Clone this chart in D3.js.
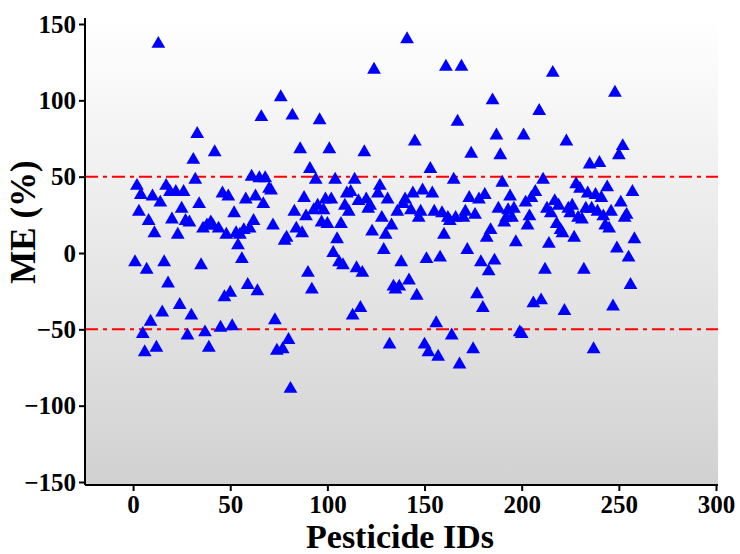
<!DOCTYPE html>
<html>
<head>
<meta charset="utf-8">
<script src="https://cdn.jsdelivr.net/npm/d3@7"></script>
<style>
  html, body { margin: 0; padding: 0; background: #ffffff; }
  svg { display: block; }
  text { font-family: "Liberation Serif", "Times New Roman", serif; font-weight: bold; fill: #000; }
</style>
</head>
<body>
<svg id="chart" width="740" height="554"></svg>
<script>
// Pesticide IDs and their matrix effect (%)
const pesticideIds = [
  1,2,3,4,5,6,7,8,9,10,11,12,13,14,15,16,17,18,19,20,22,23,24,25,26,27,28,29,30,
  31,32,33,34,35,36,37,38,39,40,41,42,44,45,46,47,48,49,50,51,52,53,54,55,56,57,58,59,60,
  61,62,63,64,65,66,67,68,70,71,72,73,74,76,77,78,79,80,81,82,83,84,86,87,88,89,90,
  91,92,93,94,95,96,97,98,99,100,101,102,103,104,105,106,107,108,109,110,111,112,113,114,115,116,117,118,119,120,
  121,122,123,124,126,127,128,129,130,131,132,133,134,135,136,137,138,139,140,141,142,143,144,145,146,147,148,149,150,
  151,152,153,154,155,156,157,158,159,160,161,162,163,164,165,166,167,168,169,170,171,172,173,174,175,176,177,178,179,180,
  181,182,183,184,185,186,187,188,189,190,191,192,193,194,195,196,197,199,200,201,202,203,204,205,206,207,209,210,
  211,212,213,214,215,216,217,218,219,220,221,222,223,224,225,226,227,228,229,230,231,232,233,234,235,236,237,238,239,240,
  241,242,243,244,245,246,247,248,249,250,251,252,253,254,255,256,257,258
];
const matrixEffect = [
  -6,44,27,38,-53,-65,-11,21,-45,37,13,-62,137,33,-39,-6,44,-20,40,22,40,12,-34,29,40,21,-54,20,-41,
  61,48,78,32,-8,16,-52,18,-62,20,18,66,16,-49,39,-29,12,37,-26,-48,26,13,5,12,-4,15,35,-21,16,
  50,21,37,-25,49,89,32,49,42,41,18,-44,-64,102,-63,8,10,-57,-89,90,27,16,68,13,36,24,-13,
  55,-24,28,48,31,87,20,28,35,19,68,35,0,48,9,-6,19,-8,31,39,27,40,-41,48,-10,34,-36,-13,66,35,
  29,31,14,120,39,44,23,2,12,35,-60,18,-22,-24,27,-22,-6,32,35,140,-18,28,39,73,-28,23,27,41,-60,
  -4,-65,55,39,27,-46,-68,-3,26,12,122,23,21,-54,48,23,86,-73,122,23,27,2,36,65,-63,25,-27,35,-6,-36,
  38,10,-12,15,100,-5,77,29,64,46,20,23,28,37,23,29,7,-52,-53,77,33,18,24,36,-33,40,93,-31,
  48,-11,29,6,26,118,34,19,31,15,13,-38,73,29,26,31,10,45,23,42,22,-11,29,39,58,29,-63,38,27,59,
  36,24,18,43,16,27,-35,105,3,64,33,70,23,25,-3,-21,40,9
];

// Axis ticks
const xTicks = [0, 50, 100, 150, 200, 250, 300];
const yTicks = [-150, -100, -50, 0, 50, 100, 150];
// ±50 % limits
const limits = [-50, 50];

const svg = d3.select("#chart");
const plot = { left: 85, right: 718, top: 18, bottom: 485 };

const x = d3.scaleLinear().domain([-25, 300]).range([84.5, 716]);
const y = d3.scaleLinear().domain([-150, 150]).range([482, 24]);

// Plot area background: white fading to light grey
const defs = svg.append("defs");
const grad = defs.append("linearGradient")
  .attr("id", "bg").attr("x1", 0).attr("y1", 0).attr("x2", 0).attr("y2", 1);
grad.append("stop").attr("offset", "0%").attr("stop-color", "#ffffff");
grad.append("stop").attr("offset", "100%").attr("stop-color", "#d1d1d1");

svg.append("rect")
  .attr("x", plot.left).attr("y", plot.top)
  .attr("width", plot.right - plot.left).attr("height", plot.bottom - plot.top)
  .attr("fill", "url(#bg)");

// Limit lines
svg.append("g").selectAll("line").data(limits).join("line")
  .attr("x1", plot.left).attr("x2", plot.right)
  .attr("y1", d => y(d)).attr("y2", d => y(d))
  .attr("stroke", "#ff0000").attr("stroke-width", 2)
  .attr("stroke-dasharray", "13,5,4,5");

// Data points
const tri = d3.symbol().type(d3.symbolTriangle).size(82);
svg.append("g").selectAll("path").data(pesticideIds).join("path")
  .attr("d", tri)
  .attr("transform", (d, i) => `translate(${x(d)},${y(matrixEffect[i])})`)
  .attr("fill", "#0000ff");

// Axes
const xAxis = svg.append("g")
  .attr("transform", `translate(0,${plot.bottom})`)
  .call(d3.axisBottom(x).tickValues(xTicks).tickSize(6).tickSizeOuter(0).tickPadding(4));
const yAxis = svg.append("g")
  .attr("transform", `translate(${plot.left},0)`)
  .call(d3.axisLeft(y).tickValues(yTicks).tickSize(6).tickSizeOuter(0).tickPadding(3)
    .tickFormat(d => d < 0 ? "\u2212" + Math.abs(d) : d));

[xAxis, yAxis].forEach(g => {
  g.select(".domain").attr("stroke", "#000").attr("stroke-width", 2);
  g.selectAll(".tick line").attr("stroke", "#000").attr("stroke-width", 2);
  g.selectAll(".tick text")
    .style("font-family", '"Liberation Serif", "Times New Roman", serif')
    .style("font-weight", "bold").style("font-size", "25px").attr("fill", "#000");
});
xAxis.select(".domain").attr("d", `M${plot.left},0H${plot.right}`);
yAxis.select(".domain").attr("d", `M0,${plot.top}V${plot.bottom}`);

// Axis titles
svg.append("text")
  .attr("x", 400).attr("y", 548)
  .attr("text-anchor", "middle")
  .style("font-size", "34px")
  .text("Pesticide IDs");
svg.append("text")
  .attr("transform", "translate(35,222) rotate(-90)")
  .attr("text-anchor", "middle")
  .style("font-size", "35px")
  .text("ME (%)");
</script>
</body>
</html>
